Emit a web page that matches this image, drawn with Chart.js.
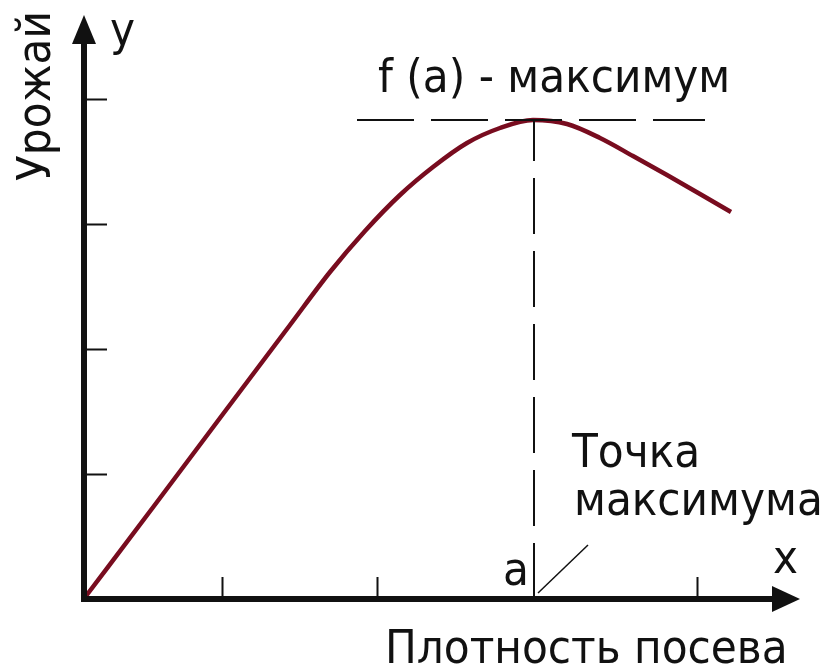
<!DOCTYPE html>
<html lang="ru">
<head>
<meta charset="utf-8">
<title>Урожай и плотность посева</title>
<script src="https://cdn.jsdelivr.net/npm/chart.js@4.4.1/dist/chart.umd.min.js"></script>
<style>
    html, body { margin: 0; padding: 0; background: #fff; }
    #wrap { width: 829px; height: 667px; }
</style>
</head>
<body>
<div id="wrap"><canvas id="theChart" width="829" height="667"></canvas></div>
<script>
// Curve of yield vs sowing density
const curveX = [2, 70, 139, 206, 246, 281, 316, 349, 383, 416, 449, 483, 516, 549, 583, 616, 647];
const curveY = [3, 93, 185, 274, 327, 368, 404, 432, 456, 471, 479, 475, 461, 443, 424, 405, 387];

// Point of maximum
const peakX = 449;
const peakY = 479;

// Dashed guide for f(a) and the little pointer to "a"
const guideX = [273, 621];
const pointerX = [454, 504];
const pointerY = [6, 54];

// Tick marks on the axes (no numbers)
const xTicks = [138, 293, 613];
const yTicks = [125, 250, 375, 500];

const xMax = 716;
const yMax = 584;

const FONT = "47px 'DejaVu Sans Condensed', 'DejaVu Sans', sans-serif";
const INK = "#111";

const curveData = curveX.map((x, i) => ({ x: x, y: curveY[i] }));

// Axes with arrows, inner ticks and all the captions
const axesPlugin = {
    id: "axesPlugin",
    afterDatasetsDraw(chart) {
        const ctx = chart.ctx;
        const xs = chart.scales.x;
        const ys = chart.scales.y;
        const x0 = xs.getPixelForValue(0);
        const y0 = ys.getPixelForValue(0);
        const xEnd = xs.getPixelForValue(xMax);
        const yEnd = ys.getPixelForValue(yMax);

        ctx.save();
        ctx.fillStyle = INK;
        ctx.strokeStyle = INK;

        // axis lines
        ctx.lineWidth = 6;
        ctx.beginPath();
        ctx.moveTo(x0, y0);
        ctx.lineTo(xEnd - 26, y0);
        ctx.moveTo(x0, y0 + 3);
        ctx.lineTo(x0, yEnd + 26);
        ctx.stroke();

        // arrow heads
        ctx.beginPath();
        ctx.moveTo(xEnd, y0);
        ctx.lineTo(xEnd - 28, y0 - 13);
        ctx.lineTo(xEnd - 28, y0 + 13);
        ctx.closePath();
        ctx.fill();
        ctx.beginPath();
        ctx.moveTo(x0, yEnd);
        ctx.lineTo(x0 - 12, yEnd + 29);
        ctx.lineTo(x0 + 12, yEnd + 29);
        ctx.closePath();
        ctx.fill();

        // ticks point inside the plot
        ctx.lineWidth = 2;
        ctx.beginPath();
        xTicks.forEach((v) => {
            const px = Math.round(xs.getPixelForValue(v)) + 0.5;
            ctx.moveTo(px, y0);
            ctx.lineTo(px, y0 - 22);
        });
        yTicks.forEach((v) => {
            const py = Math.round(ys.getPixelForValue(v)) + 0.5;
            ctx.moveTo(x0, py);
            ctx.lineTo(x0 + 23, py);
        });
        ctx.stroke();

        // captions
        ctx.font = FONT;
        ctx.textBaseline = "alphabetic";
        ctx.textAlign = "left";
        const label = (text, x, y) => {
            ctx.fillText(text, xs.getPixelForValue(x), ys.getPixelForValue(y));
        };
        label("f (a) - максимум", 294, 507);
        label("y", 26, 554);
        label("x", 689, 26);
        label("a", 419, 14);
        label("Точка", 488, 132);
        label("максимума", 490, 84);
        label("Плотность посева", 301, -64);

        // rotated y caption
        ctx.translate(x0 - 34, ys.getPixelForValue(503));
        ctx.rotate(-Math.PI / 2);
        ctx.textAlign = "center";
        ctx.fillText("Урожай", 0, 0);
        ctx.restore();
    },
};

const ctx = document.getElementById("theChart");
const theChart = new Chart(ctx, {
    type: "line",
    data: {
        datasets: [
            {
                label: "f(a) guide",
                data: guideX.map((x) => ({ x: x, y: peakY })),
                borderColor: INK,
                borderWidth: 2,
                borderDash: [57, 17],
                pointRadius: 0,
            },
            {
                label: "a guide",
                data: [{ x: peakX + 1, y: 0 }, { x: peakX + 1, y: peakY }],
                borderColor: INK,
                borderWidth: 2,
                borderDash: [56, 17],
                pointRadius: 0,
            },
            {
                label: "pointer",
                data: pointerX.map((x, i) => ({ x: x, y: pointerY[i] })),
                borderColor: INK,
                borderWidth: 1.5,
                pointRadius: 0,
            },
            {
                label: "Урожай",
                data: curveData,
                borderColor: "#780c1f",
                borderWidth: 4.5,
                cubicInterpolationMode: "monotone",
                pointRadius: 0,
            },
        ],
    },
    options: {
        responsive: false,
        animation: false,
        layout: {
            padding: { left: 84, right: 29, top: 15, bottom: 68 },
        },
        scales: {
            x: { type: "linear", min: 0, max: xMax, display: false },
            y: { type: "linear", min: 0, max: yMax, display: false },
        },
        plugins: {
            legend: { display: false },
            tooltip: { enabled: false },
        },
    },
    plugins: [axesPlugin],
});
</script>
</body>
</html>
